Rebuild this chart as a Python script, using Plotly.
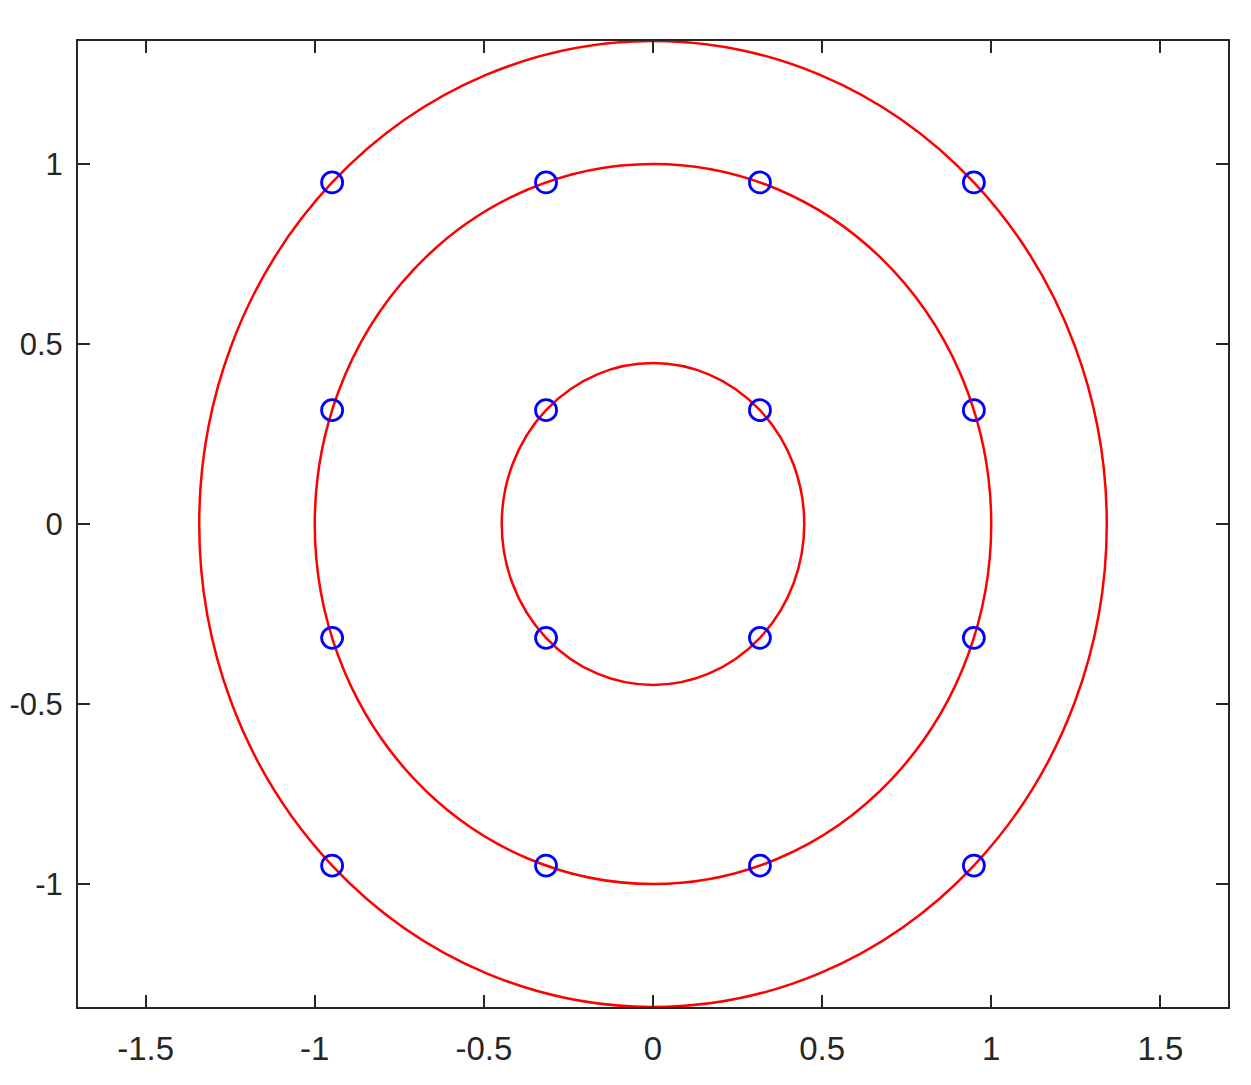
import plotly.graph_objects as go

# 16-QAM constellation points (normalized)
const_x = [-0.9487, -0.3162, 0.3162, 0.9487, -0.9487, -0.3162, 0.3162, 0.9487,
           -0.9487, -0.3162, 0.3162, 0.9487, -0.9487, -0.3162, 0.3162, 0.9487]
const_y = [0.9487, 0.9487, 0.9487, 0.9487, 0.3162, 0.3162, 0.3162, 0.3162,
           -0.3162, -0.3162, -0.3162, -0.3162, -0.9487, -0.9487, -0.9487, -0.9487]
radii = [0.4472, 1.0, 1.3416]

x_ticks = [-1.5, -1, -0.5, 0, 0.5, 1, 1.5]
x_ticktext = ["-1.5", "-1", "-0.5", "0", "0.5", "1", "1.5"]
y_ticks = [-1, -0.5, 0, 0.5, 1]
y_ticktext = ["-1", "-0.5", "0", "0.5", "1"]

fig = go.Figure()
fig.add_trace(go.Scatter(
    x=const_x, y=const_y, mode="markers",
    marker=dict(symbol="circle-open", size=21, color="#0000ff", line=dict(width=2.8, color="#0000ff")),
    showlegend=False, hoverinfo="skip",
))

shapes = []
for r in radii:
    shapes.append(dict(type="circle", xref="x", yref="y", x0=-r, y0=-r, x1=r, y1=r,
                       line=dict(color="#ff0000", width=2.5), layer="below"))

axis_common = dict(
    showgrid=False, zeroline=False, showline=True, mirror="ticks", automargin=False,
    linecolor="#262626", linewidth=2, ticks="inside", ticklen=12, tickwidth=2,
    tickcolor="#262626",
)

fig.update_layout(
    width=1243, height=1077,
    margin=dict(l=70, r=23, t=33, b=78),
    paper_bgcolor="white", plot_bgcolor="white",
    shapes=shapes,
    xaxis=dict(range=[-1.7, 1.7], tickvals=x_ticks, ticktext=x_ticktext, ticklabelstandoff=11,
               tickfont=dict(family="Liberation Sans, Arial", size=33, color="#262626"), **axis_common),
    yaxis=dict(range=[-1.3416, 1.3416], tickvals=y_ticks, ticktext=y_ticktext, ticklabelstandoff=7,
               tickfont=dict(family="Liberation Sans, Arial", size=31, color="#262626"), **axis_common),
)

fig.write_html("out.html")
